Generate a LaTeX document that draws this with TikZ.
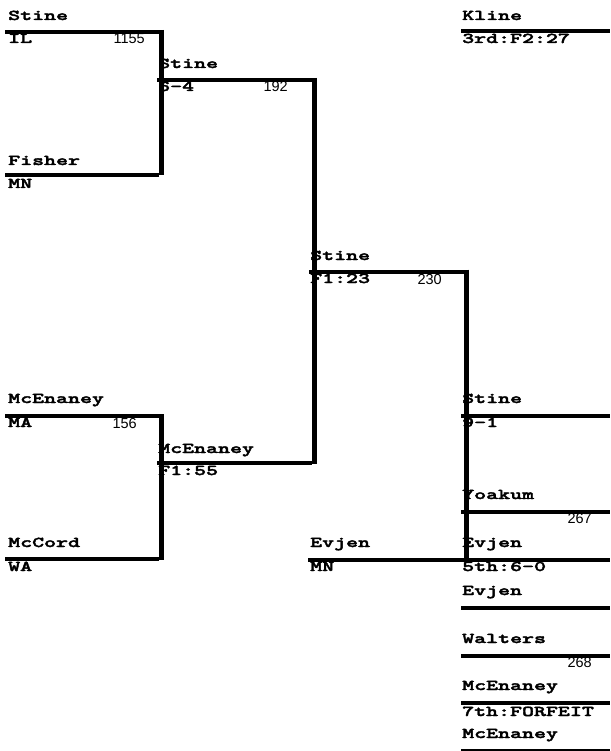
\documentclass[tikz,border=0pt]{standalone}
\usepackage{fontspec}
\newfontfamily\brkfont{lmmonolt10-bold.otf}[FakeStretch=1.52,FakeBold=2.5]
\newfontfamily\numfont{Liberation Sans}
\begin{document}
\begin{tikzpicture}[x=1pt,y=-1pt,line join=miter,line cap=butt]
	\tikzset{bar/.style={line width=4pt},
		vbar/.style={line width=5pt},
		who/.style={anchor=base west,inner sep=0pt,font=\fontsize{15}{15}\selectfont\brkfont},
		seed/.style={anchor=base east,inner sep=0pt,font=\fontsize{14.5}{15}\selectfont\numfont}}
	\useasboundingbox (0,0) rectangle (610,751);
	% round 1
	\node[who] (stA) at (8,20) {Stine};
	\node[who] (stAs) at (8,43) {IL};
	\node[seed] (stAn) at (145,44) {1155};
	\node[who] (fi) at (8,165) {Fisher};
	\node[who] (fis) at (8,188) {MN};
	\node[who] (mcA) at (8,403) {McEnaney};
	\node[who] (mcAs) at (8,427) {MA};
	\node[seed] (mcAn) at (137,428) {156};
	\node[who] (mco) at (8,547) {McCord};
	\node[who] (mcos) at (8,571) {WA};
	\draw[bar] (5,32) -- (164,32) (5,175) -- (159,175);
	\draw[vbar] (161.5,30) -- (161.5,175);
	\draw[bar] (5,416) -- (164,416) (5,559) -- (159,559);
	\draw[vbar] (161.5,414) -- (161.5,560);
	% round 2
	\node[who] (stB) at (158,68) {Stine};
	\node[who] (stBs) at (158,91) {6-4};
	\node[seed] (stBn) at (288,92) {192};
	\node[who] (mcB) at (158,453) {McEnaney};
	\node[who] (mcBs) at (158,475) {F1:55};
	\draw[bar] (157,80) -- (316,80) (157,463) -- (312,463);
	\draw[vbar] (314,78) -- (314,464);
	% round 3
	\node[who] (stC) at (310,260) {Stine};
	\node[who] (stCs) at (310,283) {F1:23};
	\node[seed] (stCn) at (442,284) {230};
	\node[who] (ev) at (310,547) {Evjen};
	\node[who] (evs) at (310,571) {MN};
	\draw[bar] (309,271.5) -- (468,271.5);
	\draw[vbar] (466,269.5) -- (466,560);
	\draw[bar] (308,560) -- (610,560);
	% placings
	\node[who] (kl) at (462,20) {Kline};
	\node[who] (kls) at (462,43) {3rd:F2:27};
	\node[who] (stD) at (462,403) {Stine};
	\node[who] (stDs) at (462,427) {9-1};
	\node[who] (yo) at (462,499) {Yoakum};
	\node[seed] (yon) at (592,523) {267};
	\node[who] (evD) at (462,547) {Evjen};
	\node[who] (evDs) at (462,571) {5th:6-0};
	\node[who] (evE) at (462,595) {Evjen};
	\node[who] (wa) at (462,643) {Walters};
	\node[seed] (wan) at (592,667) {268};
	\node[who] (mcD) at (462,690) {McEnaney};
	\node[who] (mcDs) at (462,716) {7th:FORFEIT};
	\node[who] (mcE) at (462,738) {McEnaney};
	\foreach \y in {31.5,416,512,608,656,703,751}
		\draw[bar] (461,\y) -- (610,\y);
\end{tikzpicture}
\end{document}
